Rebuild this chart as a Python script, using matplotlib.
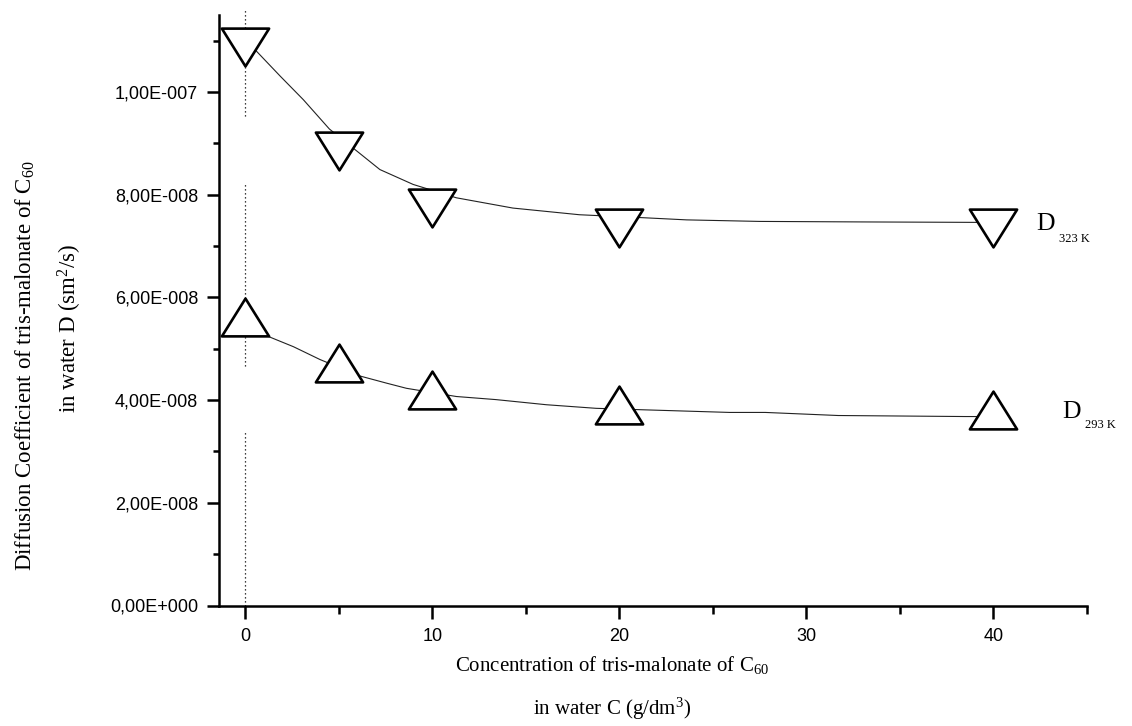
import numpy as np
import matplotlib
matplotlib.use('Agg')
import matplotlib.pyplot as plt
from matplotlib.path import Path
from matplotlib.ticker import MultipleLocator, FuncFormatter

plt.rcParams['mathtext.fontset'] = 'custom'
plt.rcParams['mathtext.rm'] = 'Liberation Serif'
plt.rcParams['mathtext.it'] = 'Liberation Serif:italic'

# koncentracia (g/dm3) i koeficienti diffuzii (x1e-8 sm2/s)
conc = [0, 5, 10, 20, 40]
d_323 = [10.88, 8.85, 7.75, 7.36, 7.36]
d_293 = [5.61, 4.72, 4.20, 3.91, 3.80]

# tochki krivoj (fit), snyatye s kartinki
fit_x_323 = [0, 0.59, 1.87, 3.11, 4.5, 7.2, 8.98, 11.29, 14.31, 17.87, 21.4, 23.6, 27.5, 33, 40]
fit_y_323 = [11.1, 10.80, 10.31, 9.85, 9.28, 8.49, 8.20, 7.94, 7.74, 7.61, 7.55, 7.51, 7.48, 7.47, 7.46]
fit_x_293 = [0, 1.3, 2.58, 4.0, 6.13, 7.56, 8.62, 11.29, 13.4, 16.1, 18.76, 21.4, 25.9, 27.8, 31.7, 38.5, 40]
fit_y_293 = [5.50, 5.23, 5.04, 4.79, 4.47, 4.33, 4.23, 4.07, 4.01, 3.91, 3.84, 3.81, 3.76, 3.76, 3.70, 3.68, 3.68]

# punktir pri C = 0 (kuski)
vline_parts = [(0, 3.40), (4.67, 8.24), (9.54, 11.63)]

scale = 1e-8

fig = plt.figure(figsize=(11.32, 7.26), dpi=100)
ax = fig.add_axes([219 / 1132, 1 - 605.5 / 726, (1087 - 219) / 1132, (605.5 - 15) / 726])

# treugolniki (shire chem vyshe)
tri_down = Path([(-1.25, 1), (1.25, 1), (0, -1), (-1.25, 1)], closed=True)
tri_up = Path([(-1.25, -1), (1.25, -1), (0, 1), (-1.25, -1)], closed=True)

for y0, y1 in vline_parts:
    ax.plot([0, 0], [y0 * scale, y1 * scale], color='black', linestyle=(0, (1, 2.2)),
            linewidth=0.9, clip_on=False, zorder=1)

ax.plot(fit_x_323, np.array(fit_y_323) * scale, color='#222222', linewidth=0.8, zorder=2)
ax.plot(fit_x_293, np.array(fit_y_293) * scale, color='#222222', linewidth=0.8, zorder=2)

ax.plot(conc, np.array(d_323) * scale, linestyle='none', marker=tri_down, markersize=34,
        markerfacecolor='white', markeredgecolor='black', markeredgewidth=1.9, zorder=3, clip_on=False)
ax.plot(conc, np.array(d_293) * scale, linestyle='none', marker=tri_up, markersize=34,
        markerfacecolor='white', markeredgecolor='black', markeredgewidth=1.9, zorder=3, clip_on=False)

ax.set_xlim(-1.4, 45)
ax.set_ylim(0, 1.15e-7)

ax.xaxis.set_major_locator(MultipleLocator(10))
ax.xaxis.set_minor_locator(MultipleLocator(5))
ax.yaxis.set_major_locator(MultipleLocator(2e-8))
ax.yaxis.set_minor_locator(MultipleLocator(1e-8))


def sci_comma(v, pos):
    if abs(v) < 1e-20:
        return '0,00E+000'
    e = int(np.floor(np.log10(abs(v)) + 1e-9))
    m = v / 10 ** e
    return f"{m:.2f}".replace('.', ',') + f"E{e:+04d}"


ax.yaxis.set_major_formatter(FuncFormatter(sci_comma))

for s in ['top', 'right']:
    ax.spines[s].set_visible(False)
for s in ['left', 'bottom']:
    ax.spines[s].set_linewidth(1.8)

ax.tick_params(axis='both', which='major', direction='out', length=9, width=1.8,
               labelsize=13)
ax.tick_params(axis='x', which='major', pad=7)
ax.tick_params(axis='y', which='major', pad=6)
ax.tick_params(axis='y', which='minor', direction='out', length=4.3, width=1.8)
ax.tick_params(axis='x', which='minor', direction='out', length=6, width=1.8)
for lab in ax.get_xticklabels() + ax.get_yticklabels():
    lab.set_fontfamily('Liberation Sans')

serif = 'Liberation Serif'
fig.text(25 / 1132, 1 - 366 / 726, 'Diffusion Coefficient of tris-malonate of C$_{60}$',
         rotation=90, ha='center', va='center', fontsize=16.5, family=serif)
fig.text(70 / 1132, 1 - 328 / 726, 'in water D (sm$^{2}$/s)',
         rotation=90, ha='center', va='center', fontsize=16.5, family=serif)
fig.text(612 / 1132, 1 - 665 / 726, 'Concentration of tris-malonate of C$_{60}$',
         ha='center', va='center', fontsize=15, family=serif)
fig.text(612 / 1132, 1 - 709 / 726, 'in water C (g/dm$^{3}$)',
         ha='center', va='center', fontsize=15, family=serif)

# podpisi serij
ax.text(42.3, 7.31 * scale, 'D', fontsize=18.5, family=serif, ha='left', va='baseline', clip_on=False)
ax.text(43.5, 7.08 * scale, '323 K', fontsize=9, family=serif, ha='left', va='baseline', clip_on=False)
ax.text(43.7, 3.65 * scale, 'D', fontsize=18.5, family=serif, ha='left', va='baseline', clip_on=False)
ax.text(44.9, 3.46 * scale, '293 K', fontsize=9, family=serif, ha='left', va='baseline', clip_on=False)

fig.savefig('out.png', dpi=100)
